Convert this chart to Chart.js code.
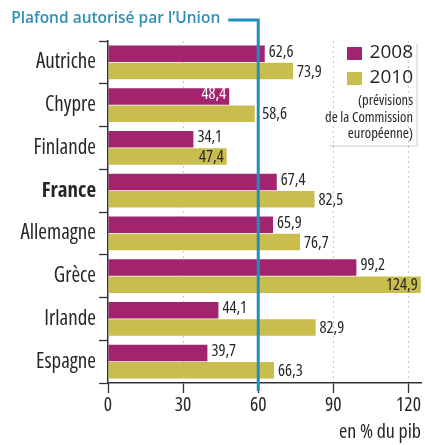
<!DOCTYPE html>
<html lang="fr">
<head>
<meta charset="utf-8">
<script src="https://cdn.jsdelivr.net/npm/chart.js@4.4.1/dist/chart.umd.min.js"></script>
<style>
  html, body { margin: 0; padding: 0; background: #fff; }
  #wrap { width: 425px; height: 445px; }
</style>
</head>
<body>
<div id="wrap"><canvas id="dette" width="425" height="445"></canvas></div>
<script>
// données : dette publique en % du pib
const pays = ["Autriche", "Chypre", "Finlande", "France", "Allemagne", "Grèce", "Irlande", "Espagne"];
const dette2008 = [62.6, 48.4, 34.1, 67.4, 65.9, 99.2, 44.1, 39.7];
const dette2010 = [73.9, 58.6, 47.4, 82.5, 76.7, 124.9, 82.9, 66.3];
const graduations = [0, 30, 60, 90, 120];
const plafond = 60;
const legendeNote = ["(prévisions", "de la Commission", "européenne)"];

const MAGENTA = "#a2246f";
const JAUNE = "#c9bd4d";
const BLEU = "#1f8fc0";
const TEXTE = "#262626";
const FAMILLE = '"Open Sans", "DejaVu Sans", sans-serif';
const ETROIT = "condensed";   // largeur condensée (font-stretch)

// taille de police pour qu'un texte fasse la largeur voulue
const mesure = document.createElement("canvas").getContext("2d");
function taille(prefixe, txt, cible, max) {
    mesure.font = prefixe + " 20px " + FAMILLE;
    const w = mesure.measureText(txt).width;
    return Math.min(max, Math.round(20 * cible / w * 2) / 2);
}
const tCat = taille(ETROIT, "Autriche", 66, 21);
const tTick = taille(ETROIT, "120", 25, 20);
const tVal = taille(ETROIT, "62,6", 25, 17);
const tAxe = taille(ETROIT, "en % du pib", 92, 20);
const tNote = taille(ETROIT, "de la Commission", 88, 17);
const tLeg = taille("normal", "2008", 44, 20);
const tTitre = taille("600", "Plafond autorisé par l’Union", 208, 18);

function fmt(v) {
    return v.toFixed(1).replace(".", ",");
}

// ligne du plafond, étiquettes des barres, légende
const decor = {
    id: "decor",
    afterDatasetsDraw(chart) {
        const ctx = chart.ctx;
        const area = chart.chartArea;
        const xLim = chart.scales.x.getPixelForValue(plafond);

        // valeurs : dehors, sauf si l'étiquette toucherait la ligne du plafond
        ctx.save();
        ctx.font = ETROIT + " " + tVal + "px " + FAMILLE;
        ctx.textBaseline = "middle";
        chart.data.datasets.forEach(function (ds, di) {
            const meta = chart.getDatasetMeta(di);
            meta.data.forEach(function (bar, i) {
                const txt = fmt(ds.data[i]);
                const w = ctx.measureText(txt).width;
                const dy = di === 0 ? -2 : 1;
                let x = bar.x + 4;
                let inside = false;
                if (bar.x < xLim && x + w > xLim - 8) {
                    if (bar.x > xLim - 8) x = xLim + 4;
                    else inside = true;
                }
                if (x + w > area.right) inside = true;
                if (inside) {
                    ctx.textAlign = "right";
                    ctx.fillStyle = di === 0 ? "#fff" : TEXTE;
                    ctx.fillText(txt, bar.x - 3, bar.y + dy);
                } else {
                    ctx.textAlign = "left";
                    ctx.fillStyle = TEXTE;
                    ctx.fillText(txt, x, bar.y + dy);
                }
            });
        });
        ctx.restore();

        // plafond
        ctx.save();
        ctx.strokeStyle = BLEU;
        ctx.lineWidth = 3;
        ctx.beginPath();
        ctx.moveTo(xLim - 30, 20);
        ctx.lineTo(xLim, 20);
        ctx.lineTo(xLim, area.bottom + 8);
        ctx.stroke();
        ctx.fillStyle = "#2f90b3";
        ctx.font = "600 " + tTitre + "px " + FAMILLE;
        ctx.textAlign = "right";
        ctx.textBaseline = "middle";
        ctx.fillText("Plafond autorisé par l’Union", xLim - 38, 19);
        ctx.restore();

        // légende
        ctx.save();
        ctx.strokeStyle = "rgba(0,0,0,0.10)";
        ctx.lineWidth = 2;
        ctx.beginPath();
        ctx.moveTo(417, 44);
        ctx.lineTo(417, 146);
        ctx.lineTo(330, 146);
        ctx.stroke();
        ctx.textBaseline = "middle";
        ctx.textAlign = "right";
        chart.data.datasets.forEach(function (ds, di) {
            const y = 53 + di * 25;
            ctx.fillStyle = ds.backgroundColor;
            ctx.fillRect(347, y - 6, 15, 13);
            ctx.fillStyle = TEXTE;
            ctx.font = tLeg + "px " + FAMILLE;
            ctx.fillText(ds.label, 413, y);
        });
        ctx.font = ETROIT + " " + tNote + "px " + FAMILLE;
        legendeNote.forEach(function (l, i) {
            ctx.fillText(l, 413, 101 + i * 16.5);
        });
        ctx.restore();
    }
};

new Chart(document.getElementById("dette"), {
    type: "bar",
    data: {
        labels: pays,
        datasets: [
            { label: "2008", data: dette2008, backgroundColor: MAGENTA, categoryPercentage: 0.8, barPercentage: 0.97 },
            { label: "2010", data: dette2010, backgroundColor: JAUNE, categoryPercentage: 0.8, barPercentage: 0.97 }
        ]
    },
    options: {
        indexAxis: "y",
        responsive: false,
        animation: false,
        layout: { padding: { top: 41, right: 4, left: 0, bottom: 0 } },
        plugins: {
            legend: { display: false },
            tooltip: { enabled: false }
        },
        scales: {
            x: {
                min: 0,
                max: 125,
                afterBuildTicks: function (s) {
                    s.ticks = graduations.map(function (v) { return { value: v }; });
                },
                afterFit: function (s) { s.height = 62; },
                ticks: {
                    color: TEXTE,
                    font: { family: FAMILLE, size: tTick, weight: ETROIT },
                    padding: 1
                },
                grid: {
                    color: function (c) { return c.tick && c.tick.value === 0 ? "transparent" : "#c9c9c9"; },
                    lineWidth: 1,
                    tickColor: "#333",
                    tickLength: 10,
                    tickWidth: 1.3
                },
                border: { display: true, color: "#333", width: 1.5, dash: [2, 3] },
                title: {
                    display: true,
                    text: "en % du pib",
                    align: "end",
                    color: TEXTE,
                    font: { family: FAMILLE, size: tAxe, weight: ETROIT },
                    padding: { top: 0, bottom: 1 }
                }
            },
            y: {
                afterFit: function (s) { s.width = 108; },
                ticks: {
                    color: TEXTE,
                    padding: 3,
                    font: function (c) {
                        const gras = c.tick && c.tick.label === "France";
                        return { family: FAMILLE, size: tCat, weight: ETROIT + (gras ? " bold" : "") };
                    }
                },
                grid: {
                    drawOnChartArea: false,
                    offset: true,
                    tickColor: "#333",
                    tickLength: 9,
                    tickWidth: 1.3
                },
                border: { display: true, color: "#333", width: 1.5 }
            }
        }
    },
    plugins: [decor]
});
</script>
</body>
</html>
